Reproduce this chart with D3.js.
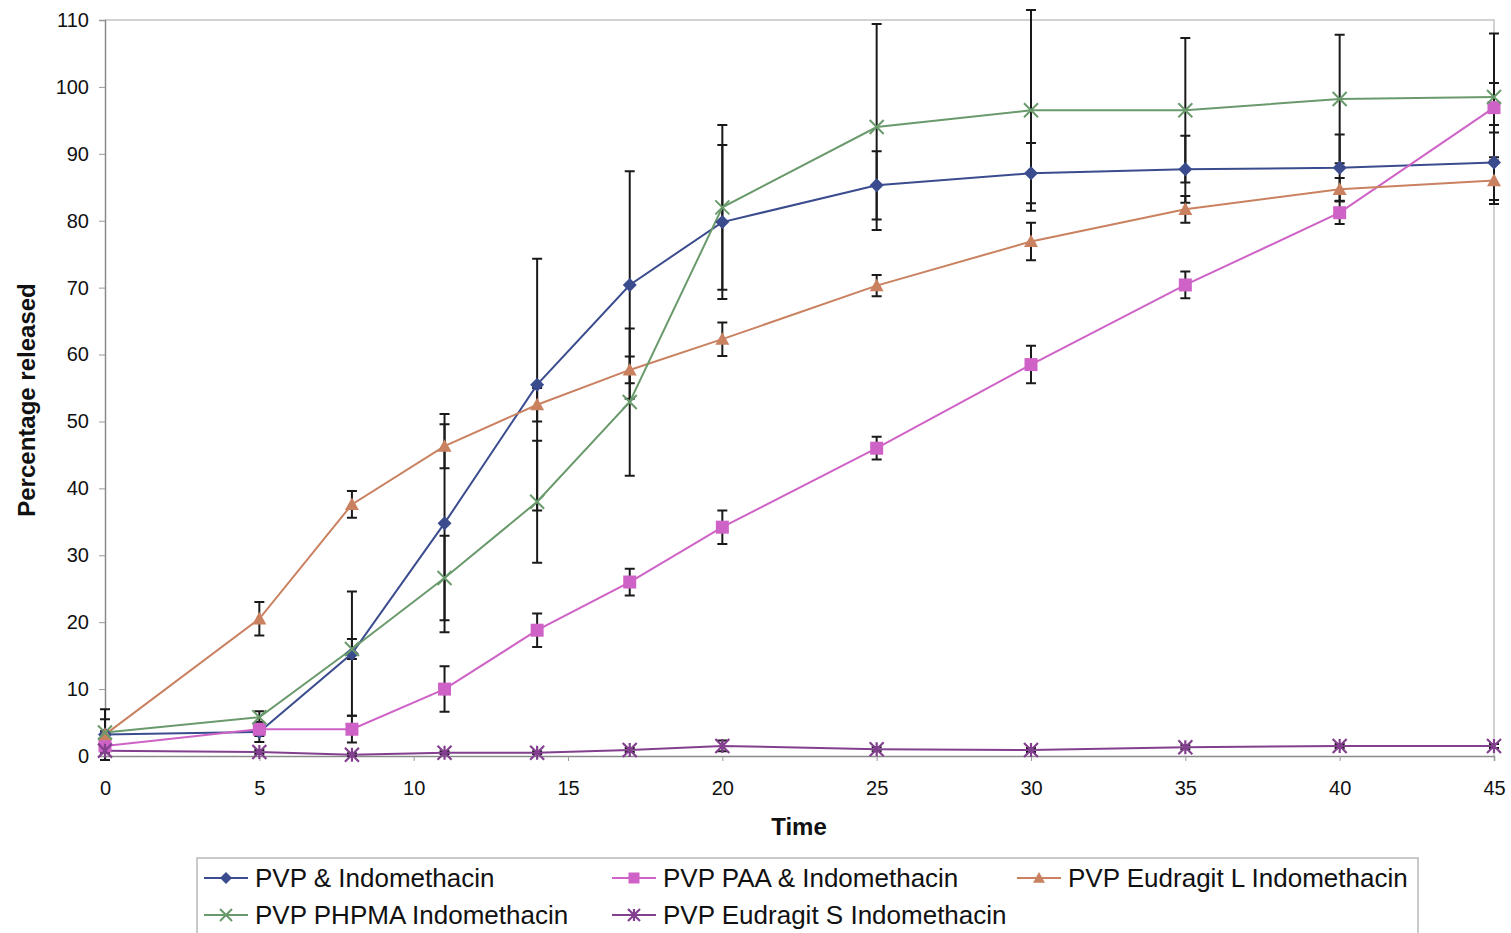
<!DOCTYPE html>
<html>
<head>
<meta charset="utf-8">
<script src="https://cdn.jsdelivr.net/npm/d3@7"></script>
<style>
  body { margin: 0; background: #fff; }
  text { font-family: "Liberation Sans", Arial, sans-serif; fill: #111; }
</style>
</head>
<body>
<script>
let width = 1511;
let height = 933;

// time points (min)
let times = [0, 5, 8, 11, 14, 17, 20, 25, 30, 35, 40, 45];

// mean percentage released and error for each formulation
let pvpValues      = [3.2, 3.6, 15.3, 34.8, 55.5, 70.4, 79.8, 85.3, 87.1, 87.7, 87.9, 88.7];
let pvpErrors      = [3.8, 1.5, 9.3, 16.3, 18.8, 17.0, 11.5, 5.1, 4.5, 5.0, 5.0, 5.6];
let paaValues      = [1.5, 4.0, 4.0, 10.0, 18.8, 26.0, 34.2, 46.0, 58.5, 70.4, 81.2, 96.9];
let paaErrors      = [0.8, 1.0, 2.0, 3.4, 2.5, 2.0, 2.5, 1.7, 2.8, 2.0, 1.7, 3.7];
let eudLValues     = [3.2, 20.5, 37.6, 46.3, 52.5, 57.7, 62.3, 70.3, 76.9, 81.7, 84.7, 86.0];
let eudLErrors     = [0.5, 2.5, 2.0, 3.3, 2.5, 2.0, 2.5, 1.6, 2.8, 2.0, 1.7, 3.5];
let phpmaValues    = [3.5, 5.8, 16.0, 26.6, 38.0, 52.9, 82.0, 94.0, 96.5, 96.5, 98.2, 98.5];
let phpmaErrors    = [2.0, 0.9, 1.5, 6.3, 9.1, 11.0, 12.3, 15.4, 15.0, 10.8, 9.6, 9.5];
let eudSValues     = [0.8, 0.6, 0.2, 0.5, 0.5, 0.9, 1.5, 1.0, 0.9, 1.3, 1.5, 1.5];
let eudSErrors     = [0.3, 0.3, 0.2, 0.2, 0.2, 0.3, 0.8, 0.3, 0.3, 0.3, 0.3, 0.3];

let seriesNames = ["PVP & Indomethacin", "PVP PAA & Indomethacin", "PVP Eudragit L Indomethacin",
                   "PVP PHPMA Indomethacin", "PVP Eudragit S Indomethacin"];
let seriesColors = ["#3b4c8e", "#cf62c6", "#c98160", "#6a9a6c", "#83408f"];
let seriesShapes = ["diamond", "square", "triangle", "cross", "star"];

let yTicks = d3.range(0, 111, 10);
let xTicks = d3.range(0, 46, 5);

let series = [
    {values: pvpValues, errors: pvpErrors},
    {values: paaValues, errors: paaErrors},
    {values: eudLValues, errors: eudLErrors},
    {values: phpmaValues, errors: phpmaErrors},
    {values: eudSValues, errors: eudSErrors}
].map(function(s, i) {
    return {
        name: seriesNames[i], color: seriesColors[i], shape: seriesShapes[i],
        points: times.map(function(t, j) { return {t: t, v: s.values[j], e: s.errors[j]}; })
    };
});

let plotLeft = 105, plotRight = 1494, plotTop = 20, plotBottom = 756;

let x = d3.scaleLinear().domain([0, 45]).range([plotLeft, plotRight]);
let y = d3.scaleLinear().domain([0, 110]).range([plotBottom, plotTop]);

let svg = d3.select("body")
    .append("svg")
    .attr("width", width)
    .attr("height", height);

// plot frame (top and right)
svg.append("path")
    .attr("d", "M" + plotLeft + "," + plotTop + "H" + plotRight + "V" + plotBottom)
    .attr("fill", "none")
    .attr("stroke", "#c4c4c4")
    .attr("stroke-width", 1.5);

// axes
let yAxis = svg.append("g")
    .attr("transform", "translate(" + plotLeft + ",0)")
    .call(d3.axisLeft(y).tickValues(yTicks).tickSize(6).tickPadding(10));
let xAxis = svg.append("g")
    .attr("transform", "translate(0," + plotBottom + ")")
    .call(d3.axisBottom(x).tickValues(xTicks).tickSize(5).tickPadding(20));

[yAxis, xAxis].forEach(function(ax) {
    ax.select(".domain").attr("stroke", "#8a8a8a").attr("stroke-width", 1.5);
    ax.selectAll(".tick line").attr("stroke", "#9a9a9a");
    ax.selectAll(".tick text")
        .style("font-size", "20px")
        .style("font-family", "'Liberation Sans', Arial, sans-serif")
        .attr("fill", "#111");
});

// axis titles
svg.append("text")
    .attr("x", 799)
    .attr("y", 835)
    .attr("text-anchor", "middle")
    .attr("font-weight", "bold")
    .style("font-size", "24px")
    .text("Time");

svg.append("text")
    .attr("transform", "translate(35," + ((plotTop + plotBottom) / 2 + 12) + ") rotate(-90)")
    .attr("text-anchor", "middle")
    .attr("font-weight", "bold")
    .style("font-size", "24px")
    .text("Percentage released");

// error bars
let capHalf = 5;
let errG = svg.append("g").attr("class", "errors");
series.forEach(function(s) {
    let g = errG.append("g");
    g.selectAll("path")
        .data(s.points)
        .enter().append("path")
        .attr("d", function(d) {
            let cx = x(d.t), y1 = y(d.v + d.e), y2 = y(d.v - d.e);
            return "M" + cx + "," + y1 + "V" + y2 +
                   "M" + (cx - capHalf) + "," + y1 + "H" + (cx + capHalf) +
                   "M" + (cx - capHalf) + "," + y2 + "H" + (cx + capHalf);
        })
        .attr("fill", "none")
        .attr("stroke", "#1a1a1a")
        .attr("stroke-width", 2);
});

// lines
let line = d3.line()
    .x(function(d) { return x(d.t); })
    .y(function(d) { return y(d.v); });

series.forEach(function(s) {
    svg.append("path")
        .datum(s.points)
        .attr("d", line)
        .attr("fill", "none")
        .attr("stroke", s.color)
        .attr("stroke-width", 2);
});

// markers
function drawMarker(g, shape, color, cx, cy, r) {
    if (shape == "diamond") {
        g.append("path").attr("d", "M" + cx + "," + (cy - r) + "L" + (cx + r) + "," + cy + "L" + cx + "," + (cy + r) + "L" + (cx - r) + "," + cy + "Z")
            .attr("fill", color);
    } else if (shape == "square") {
        g.append("rect").attr("x", cx - r).attr("y", cy - r).attr("width", 2 * r).attr("height", 2 * r)
            .attr("fill", color);
    } else if (shape == "triangle") {
        g.append("path").attr("d", "M" + cx + "," + (cy - r) + "L" + (cx + r) + "," + (cy + r * 0.8) + "L" + (cx - r) + "," + (cy + r * 0.8) + "Z")
            .attr("fill", color);
    } else if (shape == "cross") {
        g.append("path").attr("d", "M" + (cx - r) + "," + (cy - r) + "L" + (cx + r) + "," + (cy + r) + "M" + (cx + r) + "," + (cy - r) + "L" + (cx - r) + "," + (cy + r))
            .attr("stroke", color).attr("stroke-width", 2);
    } else if (shape == "star") {
        g.append("path").attr("d", "M" + (cx - r) + "," + (cy - r) + "L" + (cx + r) + "," + (cy + r) + "M" + (cx + r) + "," + (cy - r) + "L" + (cx - r) + "," + (cy + r) + "M" + cx + "," + (cy - r) + "V" + (cy + r))
            .attr("stroke", color).attr("stroke-width", 2.2);
    }
}

series.forEach(function(s) {
    let g = svg.append("g");
    let r = s.shape == "square" ? 6.5 : 7;
    s.points.forEach(function(d) {
        drawMarker(g, s.shape, s.color, x(d.t), y(d.v), r);
    });
});

// legend
let legend = svg.append("g");
legend.append("rect")
    .attr("x", 197)
    .attr("y", 858)
    .attr("width", 1221)
    .attr("height", 90)
    .attr("fill", "#fff")
    .attr("stroke", "#b8b8b8")
    .attr("stroke-width", 1.5);

let legendCols = [204, 612, 1017];
let legendRows = [878, 915];
series.forEach(function(s, i) {
    let lx = legendCols[i % 3];
    let ly = legendRows[Math.floor(i / 3)];
    let g = legend.append("g");
    g.append("line")
        .attr("x1", lx).attr("x2", lx + 44)
        .attr("y1", ly).attr("y2", ly)
        .attr("stroke", s.color)
        .attr("stroke-width", 2);
    drawMarker(g, s.shape, s.color, lx + 22, ly, s.shape == "square" ? 5.5 : 6);
    g.append("text")
        .attr("x", lx + 51)
        .attr("y", ly + 9)
        .style("font-size", "26px")
        .text(s.name);
});
</script>
</body>
</html>
